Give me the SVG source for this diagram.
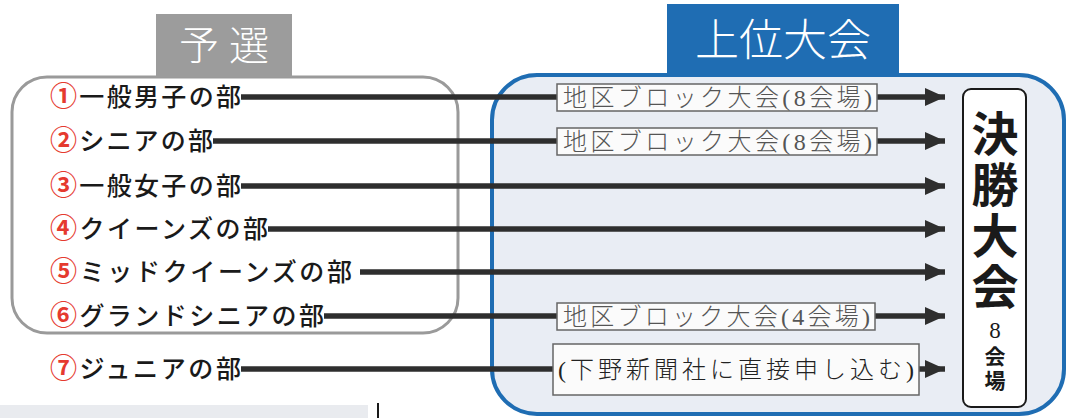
<svg xmlns="http://www.w3.org/2000/svg" width="1066" height="418" viewBox="0 0 1066 418">
<style>
.lbl{font-family:"Noto Sans CJK JP","Noto Sans",sans-serif;font-size:25px;font-weight:500;fill:#1a1a1a}
.num{fill:#e53a2f;font-weight:700;font-size:27px}
.conn{stroke:#2e2e2e;stroke-width:5.5;fill:none}
.sub{fill:#fbfbfb;stroke:#666;stroke-width:1.5}
.subt{font-family:"Liberation Serif","Noto Sans CJK JP",serif;font-size:24px;font-weight:300;fill:#555}
.hdr{font-family:"Liberation Serif","Noto Sans CJK JP",serif;fill:#fff;text-anchor:middle;font-weight:300}
.fin{font-family:"Noto Sans CJK JP","Noto Sans",sans-serif;font-weight:700;fill:#1a1a1a;writing-mode:vertical-rl;text-orientation:upright}
</style>
<defs>
<marker id="ah" markerUnits="userSpaceOnUse" markerWidth="20" markerHeight="18" refX="20" refY="9" orient="auto">
<path d="M0,0 L20,9 L0,18 z" fill="#2e2e2e"/>
</marker>
</defs>
<rect width="1066" height="418" fill="#ffffff"/>

<g id="upper">
<rect x="492" y="75" width="572" height="339" rx="45" fill="#e9edf4" stroke="#1f6db3" stroke-width="4"/>
<rect x="667" y="4" width="232" height="72" fill="#1f6db3"/>
<text class="hdr" x="783" y="56" font-size="44">上位大会</text>
</g>

<g id="prelim">
<rect x="12" y="77" width="446" height="256" rx="35" fill="#ffffff" stroke="#9a9a9a" stroke-width="3"/>
<rect x="156" y="14" width="136" height="63" fill="#9c9c9c"/>
<text class="hdr" x="224" y="60" font-size="40">予 選</text>
</g>

<g id="labels">
<text class="lbl" x="50" y="106" textLength="191" lengthAdjust="spacing"><tspan class="num">①</tspan>一般男子の部</text>
<text class="lbl" x="50" y="150" textLength="163" lengthAdjust="spacing"><tspan class="num">②</tspan>シニアの部</text>
<text class="lbl" x="50" y="195" textLength="191" lengthAdjust="spacing"><tspan class="num">③</tspan>一般女子の部</text>
<text class="lbl" x="50" y="238" textLength="218" lengthAdjust="spacing"><tspan class="num">④</tspan>クイーンズの部</text>
<text class="lbl" x="50" y="281" textLength="302" lengthAdjust="spacing"><tspan class="num">⑤</tspan>ミッドクイーンズの部</text>
<text class="lbl" x="50" y="325" textLength="274" lengthAdjust="spacing"><tspan class="num">⑥</tspan>グランドシニアの部</text>
<text class="lbl" x="50" y="378" textLength="191" lengthAdjust="spacing"><tspan class="num">⑦</tspan>ジュニアの部</text>
</g>

<g id="connectors">
<line class="conn" x1="241" y1="97" x2="945" y2="97" marker-end="url(#ah)"/>
<line class="conn" x1="213" y1="141" x2="945" y2="141" marker-end="url(#ah)"/>
<line class="conn" x1="241" y1="186" x2="945" y2="186" marker-end="url(#ah)"/>
<line class="conn" x1="268" y1="229" x2="945" y2="229" marker-end="url(#ah)"/>
<line class="conn" x1="360" y1="272" x2="945" y2="272" marker-end="url(#ah)"/>
<line class="conn" x1="324" y1="316" x2="945" y2="316" marker-end="url(#ah)"/>
<line class="conn" x1="241" y1="369" x2="945" y2="369" marker-end="url(#ah)"/>
</g>

<g id="block1">
<rect class="sub" x="557" y="84" width="320" height="27"/>
<text class="subt" x="563" y="106" textLength="309" lengthAdjust="spacing">地区ブロック大会(8会場)</text>
</g>
<g id="block2">
<rect class="sub" x="557" y="128" width="320" height="27"/>
<text class="subt" x="563" y="150" textLength="309" lengthAdjust="spacing">地区ブロック大会(8会場)</text>
</g>
<g id="block6">
<rect class="sub" x="557" y="303" width="318" height="27"/>
<text class="subt" x="563" y="325" textLength="307" lengthAdjust="spacing">地区ブロック大会(4会場)</text>
</g>
<g id="direct">
<rect class="sub" x="553" y="344" width="366" height="51"/>
<text class="subt" x="558" y="378" textLength="356" lengthAdjust="spacing" style="fill:#222">(下野新聞社に直接申し込む)</text>
</g>

<g id="final">
<rect x="963" y="89" width="63" height="318" rx="8" fill="#ffffff" stroke="#1a1a1a" stroke-width="2"/>
<text class="fin" x="995" y="110" font-size="47" letter-spacing="4">決勝大会</text>
<text class="fin" x="995" y="318" font-size="21" letter-spacing="3"><tspan font-family="Liberation Serif, serif" font-weight="400" font-size="23">8</tspan>会場</text>
</g>

<g id="bottom-edge">
<rect x="0" y="405" width="368" height="13" fill="#e9ebef"/>
<line x1="378" y1="403" x2="378" y2="418" stroke="#1a1a1a" stroke-width="2"/>
</g>
</svg>
